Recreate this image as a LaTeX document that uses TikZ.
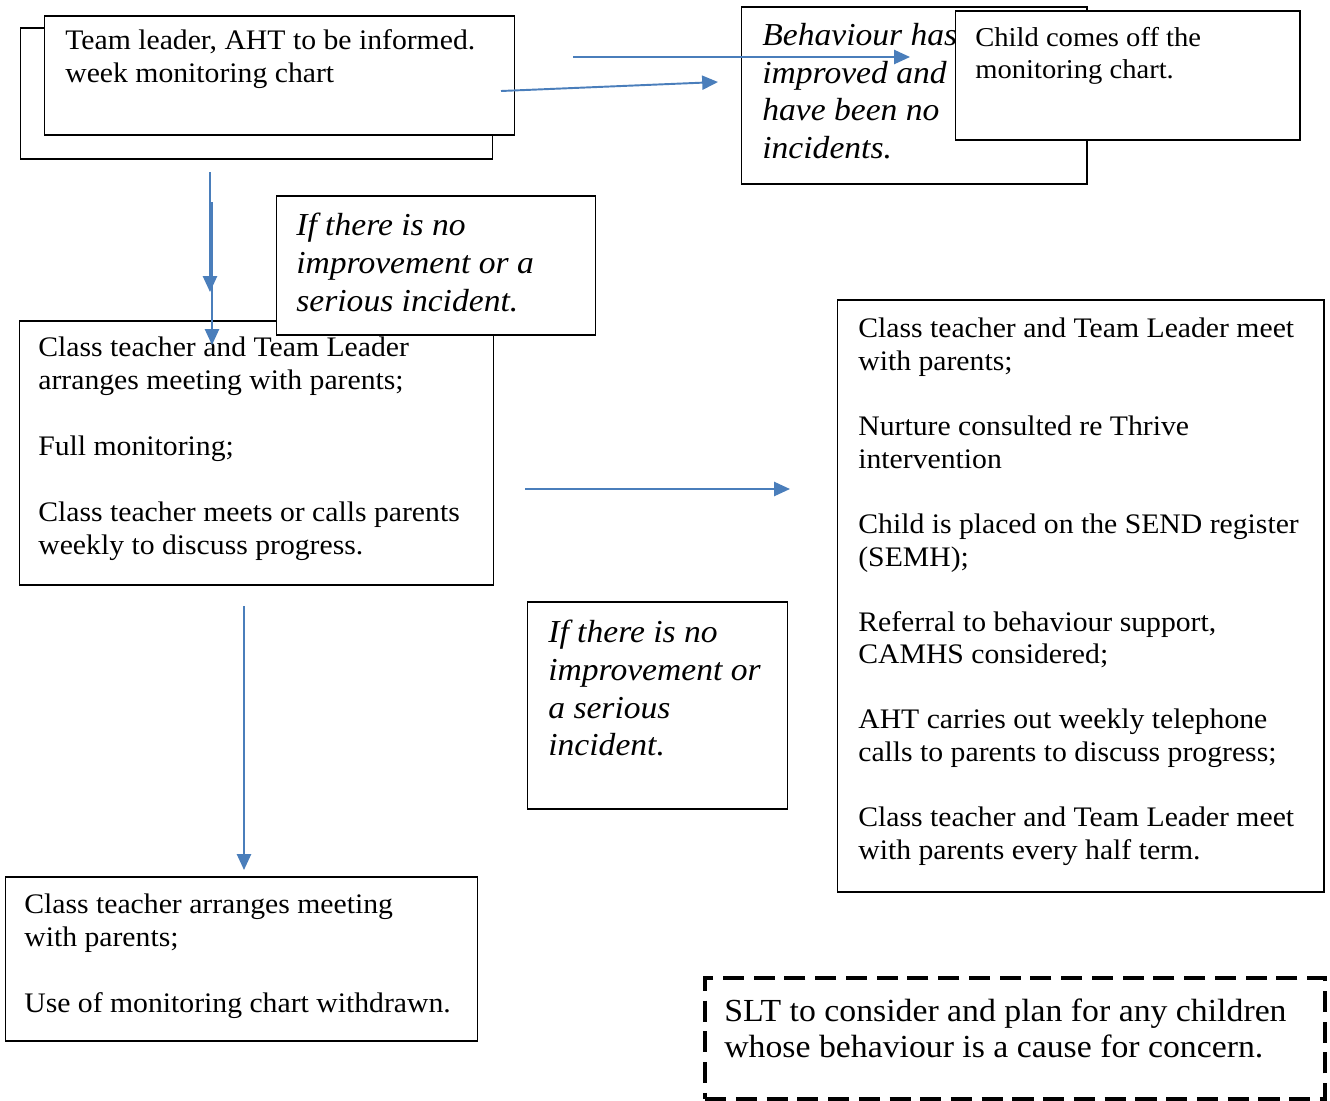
\documentclass[tikz,border=0pt]{standalone}
\usepackage{fontspec}
\setmainfont{Liberation Serif}[FakeStretch=1.05]
\usetikzlibrary{arrows.meta}
\definecolor{arrowblue}{HTML}{4A7EBB}
\newcommand\myreg{\fontsize{16.1}{18.7}\selectfont}
\newcommand\myit{\fontsize{18.2}{21.4}\selectfont\itshape}
\newcommand\mybig{\fontsize{18.3}{21}\selectfont}
\tikzset{
  box/.style={draw=black, line width=0.85pt, fill=white, anchor=north west, inner sep=0pt},
  txt/.style={anchor=north west, inner sep=0pt, align=left},
  arr/.style={draw=arrowblue, line width=1.1pt, -{Triangle[width=8pt,length=9pt]}},
}
\begin{document}
\begin{tikzpicture}[x=0.02cm, y=-0.02cm]
\useasboundingbox (0,0) rectangle (1330,1100);

% top-left stacked boxes
\node[box, minimum width=472*0.02cm, minimum height=131*0.02cm] (back) at (20,27) {};
\node[box, minimum width=470*0.02cm, minimum height=119*0.02cm] (front) at (44,15) {};
\node[txt, font=\myreg] (fronttxt) at (65,29) {Team leader, AHT to be informed.\\week monitoring chart};

% behaviour improved
\node[box, minimum width=345*0.02cm, minimum height=177*0.02cm] (improved) at (741,6) {};
\node[txt, font=\fontsize{18.2}{21.4}\selectfont\itshape] (improvedtxt) at (762,23) {Behaviour has\\improved and\\have been no\\incidents.};

\coordinate (a1s) at (573,57);
\coordinate (a1e) at (910,57);
\coordinate (a2s) at (501,91);
\coordinate (a2e) at (718,82);
\draw[arr] (a1s) -- (a1e);
\draw[arr] (a2s) -- (a2e);

\node[box, minimum width=344*0.02cm, minimum height=129*0.02cm] (offchart) at (955,10) {};
\node[txt, font=\fontsize{15.5}{18.2}\selectfont] (offcharttxt) at (975,27) {Child comes off the\\monitoring chart.};

% class teacher / team leader box
\node[box, minimum width=474*0.02cm, minimum height=264*0.02cm] (full) at (19,320) {};
\node[txt, font=\myreg] (fulltxt) at (38,337) {Class teacher and Team Leader\\arranges meeting with parents;\\[18.7pt]Full monitoring;\\[18.7pt]Class teacher meets or calls parents\\weekly to discuss progress.};

% if no improvement (top)
\node[box, minimum width=319*0.02cm, minimum height=139*0.02cm] (ifone) at (276,195) {};
\node[txt, font=\myit] (ifonetxt) at (296,213) {If there is no\\improvement or a\\serious incident.};

\coordinate (a3s) at (210,172);
\coordinate (a3e) at (210,292);
\coordinate (a4s) at (212,202);
\coordinate (a4e) at (212,345);
\draw[arr] (a3s) -- (a3e);
\draw[arr] (a4s) -- (a4e);

% middle arrow and box
\coordinate (a5s) at (525,489);
\coordinate (a5e) at (790,489);
\draw[arr] (a5s) -- (a5e);

\node[box, minimum width=260*0.02cm, minimum height=207*0.02cm] (iftwo) at (527,601) {};
\node[txt, font=\myit] (iftwotxt) at (548,620) {If there is no\\improvement or\\a serious\\incident.};

% right big box
\node[box, minimum width=486*0.02cm, minimum height=592*0.02cm] (send) at (837,299) {};
\node[txt, font=\myreg] (sendtxt) at (858,318) {Class teacher and Team Leader meet\\with parents;\\[18.2pt]Nurture consulted re Thrive\\intervention\\[18.2pt]Child is placed on the SEND register\\(SEMH);\\[18.2pt]Referral to behaviour support,\\CAMHS considered;\\[18.2pt]AHT carries out weekly telephone\\calls to parents to discuss progress;\\[18.2pt]Class teacher and Team Leader meet\\with parents every half term.};

% bottom left
\coordinate (a6s) at (244,606);
\coordinate (a6e) at (244,870);
\draw[arr] (a6s) -- (a6e);

\node[box, minimum width=472*0.02cm, minimum height=164*0.02cm] (withdrawn) at (5,876) {};
\node[txt, font=\myreg] (withdrawntxt) at (24,894) {Class teacher arranges meeting\\with parents;\\[18.7pt]Use of monitoring chart withdrawn.};

% SLT dashed box
\node[draw=black, line width=2.3pt, dash pattern=on 12pt off 5.5pt, anchor=north west, inner sep=0pt, minimum width=620*0.02cm, minimum height=121*0.02cm] (slt) at (703,976) {};
\node[txt, font=\mybig] (slttxt) at (724,998) {SLT to consider and plan for any children\\whose behaviour is a cause for concern.};
\end{tikzpicture}
\end{document}
